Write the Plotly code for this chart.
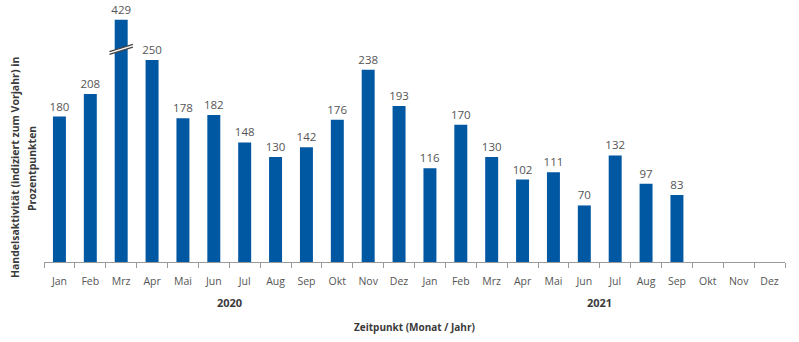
import plotly.graph_objects as go

months = ["Jan", "Feb", "Mrz", "Apr", "Mai", "Jun", "Jul", "Aug", "Sep", "Okt", "Nov", "Dez",
          "Jan", "Feb", "Mrz", "Apr", "Mai", "Jun", "Jul", "Aug", "Sep", "Okt", "Nov", "Dez"]
years = ["2020", "2021"]
values = [180, 208, 429, 250, 178, 182, 148, 130, 142, 176, 238, 193,
          116, 170, 130, 102, 111, 70, 132, 97, 83, None, None, None]
y_title_lines = ["Handelsaktivität (indiziert zum Vorjahr) in", "Prozentpunkten"]
x_title = "Zeitpunkt (Monat / Jahr)"

CAP = 300        # displayed height of the broken (axis-break) bar
BREAK_AT = 265   # where the break mark sits
Y_MAX = 312

BLUE = "#0057A2"
GRAY = "#555555"
DARK = "#3a3a3a"
FONT = "Open Sans"

x_idx = list(range(len(months)))
shown = [None if v is None else min(v, CAP) for v in values]
labels = ["" if v is None else str(v) for v in values]

fig = go.Figure()
fig.add_trace(go.Bar(
    x=x_idx, y=shown, text=labels, textposition="outside", constraintext="none",
    textfont=dict(family=FONT, size=11.5, color=GRAY),
    marker=dict(color=BLUE, line=dict(width=0)),
    width=0.42, cliponaxis=False, hoverinfo="skip",
))

# axis-break mark on the capped bar
shapes = []
for i, v in enumerate(values):
    if v is not None and v > CAP:
        x0, x1 = i - 0.38, i + 0.38
        d = 3.5
        slope = 9
        shapes.append(dict(type="path", xref="x", yref="y",
                           path=f"M {x0},{BREAK_AT - slope/2} L {x1},{BREAK_AT + slope/2} "
                                f"L {x1},{BREAK_AT + slope/2 - d} L {x0},{BREAK_AT - slope/2 - d} Z",
                           fillcolor="white", line=dict(width=0), layer="above"))
        for off in (0, -d):
            shapes.append(dict(type="line", xref="x", yref="y",
                               x0=x0, y0=BREAK_AT - slope/2 + off,
                               x1=x1, y1=BREAK_AT + slope/2 + off,
                               line=dict(color="#444444", width=1.3), layer="above"))

annotations = []
for k, yr in enumerate(years):
    annotations.append(dict(text=f"<b>{yr}</b>", x=k * 12 + 5.5, xref="x", y=-0.159, yref="paper",
                            showarrow=False, xanchor="center", yanchor="middle",
                            font=dict(family=FONT, size=11, color=DARK)))
annotations.append(dict(text=f"<b>{x_title}</b>", x=0.5, xref="paper", y=-0.258, yref="paper",
                        showarrow=False, xanchor="center", yanchor="middle",
                        font=dict(family=FONT, size=10, color=DARK)))
for j, (line, px) in enumerate(zip(y_title_lines, (-0.039, -0.0162))):
    annotations.append(dict(text=f"<b>{line}</b>", x=px, xref="paper", y=0.373, yref="paper",
                            textangle=-90, showarrow=False, xanchor="center", yanchor="middle",
                            font=dict(family=FONT, size=10.5, color=DARK)))

fig.update_layout(
    width=799, height=342,
    margin=dict(l=44, r=14, t=10, b=80),
    plot_bgcolor="white", paper_bgcolor="white",
    showlegend=False, bargap=0.58,
    shapes=shapes, annotations=annotations,
    xaxis=dict(range=[-0.5, len(months) - 0.5], tickmode="array", tickvals=x_idx, ticktext=months,
               ticks="", showgrid=False, zeroline=False,
               showline=True, linecolor="#9a9a9a", linewidth=1,
               ticklabelstandoff=9,
               tickfont=dict(family=FONT, size=10.5, color=GRAY),
               minor=dict(tickmode="linear", tick0=-0.5, dtick=1, ticks="outside",
                          ticklen=5, tickcolor="#9a9a9a", tickwidth=1, showgrid=False)),
    yaxis=dict(range=[0, Y_MAX], visible=False, showgrid=False, zeroline=False),
)

fig.write_html("out.html")
